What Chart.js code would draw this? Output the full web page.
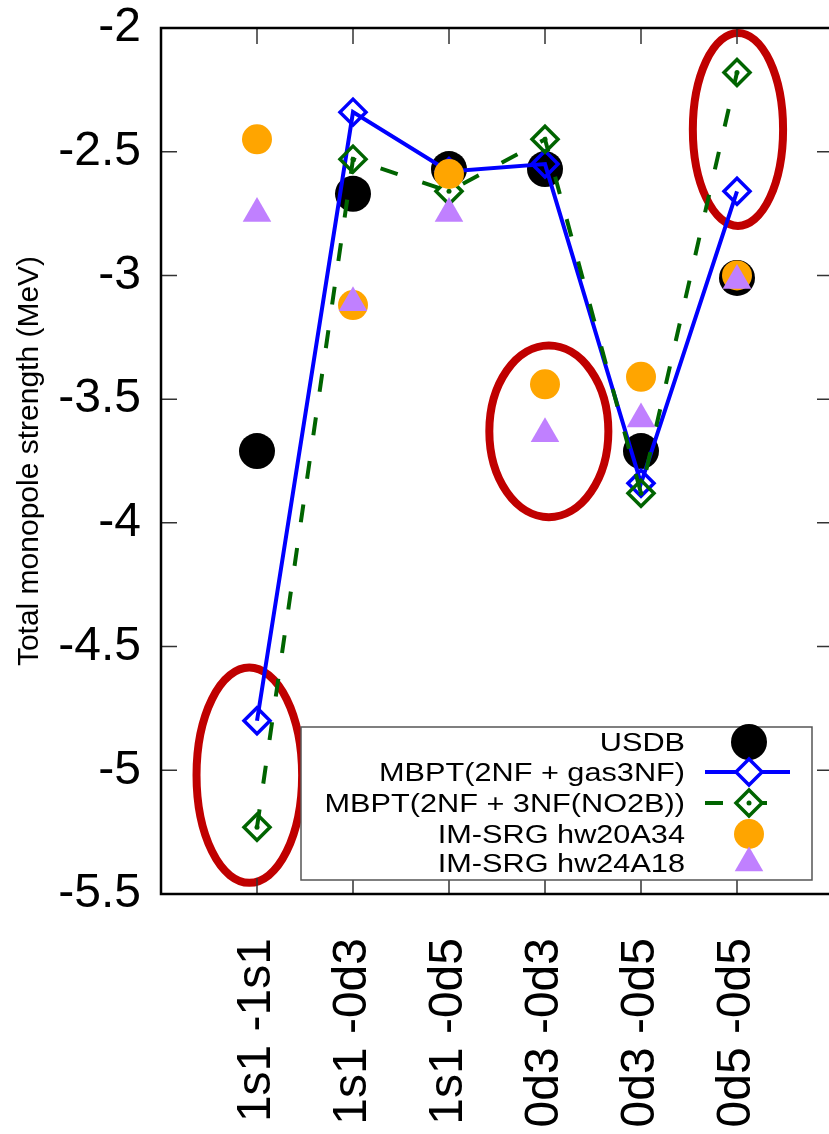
<!DOCTYPE html>
<html>
<head>
<meta charset="utf-8">
<script src="https://cdn.jsdelivr.net/npm/chart.js@4.4.1/dist/chart.umd.min.js"></script>
<style>
  html, body { margin: 0; padding: 0; background: #fff; overflow: hidden; }
  canvas { display: block; }
</style>
</head>
<body>
<canvas id="myChart" width="834" height="1134"></canvas>
<script>
var categories = ["1s1 -1s1", "1s1 -0d3", "1s1 -0d5", "0d3 -0d3", "0d3 -0d5", "0d5 -0d5"];
var usdb     = [-3.71, -2.67, -2.57, -2.57, -3.71, -3.01];
var mbptGas  = [-4.80, -2.34, -2.58, -2.55, -3.84, -2.66];
var mbptNO2B = [-5.23, -2.53, -2.66, -2.45, -3.88, -2.18];
var imsrg20  = [-2.45, -3.12, -2.59, -3.44, -3.41, -3.00];
var imsrg24  = [-2.75, -3.11, -2.75, -3.64, -3.58, -3.02];
var yTicks   = [-5.5, -5, -4.5, -4, -3.5, -3, -2.5, -2];
// red ellipses marking the interesting pairs (centre and half axes, data units)
var highlights = [
  { x: 0.92, y: -5.02, rx: 0.55, ry: 0.435 },
  { x: 4.04, y: -3.63, rx: 0.62, ry: 0.347 },
  { x: 6.01, y: -2.41, rx: 0.47, ry: 0.39 }
];

var FONT = "'Liberation Sans', Arial, Helvetica, sans-serif";

function pts(arr) {
  return arr.map(function (v, i) { return { x: i + 1, y: v }; });
}

var data = {
  datasets: [
    { label: "USDB", data: pts(usdb), showLine: false, pointStyle: "circle",
      pointRadius: 18, backgroundColor: "#000000", borderColor: "#000000", pointBorderWidth: 0, order: 6 },
    { label: "MBPT(2NF + gas3NF)", data: pts(mbptGas), showLine: true, borderColor: "#0000ff", borderWidth: 4,
      pointStyle: "rectRot", pointRadius: 13, pointBorderWidth: 3.5, pointBorderColor: "#0000ff",
      pointBackgroundColor: "rgba(0,0,0,0)", backgroundColor: "#0000ff", order: 5 },
    { label: "MBPT(2NF + 3NF(NO2B))", data: pts(mbptNO2B), showLine: true, borderColor: "#006400", borderWidth: 4,
      borderDash: [18, 26], pointStyle: "rectRot", pointRadius: 13, pointBorderWidth: 3.5, pointBorderColor: "#006400",
      pointBackgroundColor: "rgba(0,0,0,0)", backgroundColor: "#006400", order: 4 },
    { label: null, data: pts(mbptNO2B), showLine: false, pointStyle: "circle", pointRadius: 2.5,
      backgroundColor: "#006400", borderColor: "#006400", pointBorderWidth: 0, order: 3 },
    { label: "IM-SRG hw20A34", data: pts(imsrg20), showLine: false, pointStyle: "circle",
      pointRadius: 15, backgroundColor: "#ffa500", borderColor: "#ffa500", pointBorderWidth: 0, order: 2 },
    { label: "IM-SRG hw24A18", data: pts(imsrg24), showLine: false, pointStyle: "triangle",
      pointRadius: 16.5, backgroundColor: "#c080ff", borderColor: "#c080ff", pointBorderWidth: 0, order: 1 }
  ]
};

var framePlugin = {
  id: "frame",
  beforeDatasetsDraw: function (chart) {
    var ctx = chart.ctx, a = chart.chartArea;
    var xs = chart.scales.x, ys = chart.scales.y;
    ctx.save();
    // ellipses
    ctx.strokeStyle = "#c00000";
    ctx.lineWidth = 8;
    highlights.forEach(function (h) {
      var cx = xs.getPixelForValue(h.x), cy = ys.getPixelForValue(h.y);
      var rx = Math.abs(xs.getPixelForValue(h.x + h.rx) - cx);
      var ry = Math.abs(ys.getPixelForValue(h.y + h.ry) - cy);
      ctx.beginPath();
      ctx.ellipse(cx, cy, rx, ry, 0, 0, Math.PI * 2);
      ctx.stroke();
    });
    // inward ticks
    ctx.strokeStyle = "#333";
    ctx.lineWidth = 1.5;
    ctx.beginPath();
    categories.forEach(function (c, i) {
      var px = xs.getPixelForValue(i + 1);
      ctx.moveTo(px, a.bottom); ctx.lineTo(px, a.bottom - 16);
      ctx.moveTo(px, a.top); ctx.lineTo(px, a.top + 16);
    });
    yTicks.forEach(function (v) {
      var py = ys.getPixelForValue(v);
      ctx.moveTo(a.left, py); ctx.lineTo(a.left + 16, py);
      ctx.moveTo(a.right, py); ctx.lineTo(a.right - 16, py);
    });
    ctx.stroke();
    // border
    ctx.strokeStyle = "#000";
    ctx.lineWidth = 2.5;
    ctx.strokeRect(a.left, a.top, a.right - a.left, a.bottom - a.top);
    ctx.restore();
  },
  afterDraw: function (chart) {
    // gnuplot style key, bottom right
    var ctx = chart.ctx;
    var box = { left: 301, top: 727, right: 812, bottom: 880 };
    var rowY = [742, 772, 803, 834, 863];
    var textRight = 685, sampleX = 749;
    ctx.save();
    ctx.fillStyle = "#fff";
    ctx.fillRect(box.left, box.top, box.right - box.left, box.bottom - box.top);
    ctx.strokeStyle = "#555";
    ctx.lineWidth = 1.5;
    ctx.strokeRect(box.left, box.top, box.right - box.left, box.bottom - box.top);
    var items = chart.data.datasets.filter(function (d) { return d.label; });
    items.forEach(function (d, i) {
      var y = rowY[i];
      ctx.save();
      ctx.translate(textRight, y + 9);
      ctx.scale(1.18, 1);
      ctx.fillStyle = "#000";
      ctx.font = "26px " + FONT;
      ctx.textAlign = "right";
      ctx.textBaseline = "alphabetic";
      ctx.fillText(d.label, 0, 0);
      ctx.restore();
      if (d.showLine) {
        ctx.save();
        ctx.strokeStyle = d.borderColor;
        ctx.lineWidth = d.borderWidth;
        ctx.setLineDash(d.borderDash || []);
        ctx.beginPath();
        ctx.moveTo(705, y);
        ctx.lineTo(d.borderDash ? 772 : 790, y);
        ctx.stroke();
        ctx.restore();
        ctx.fillStyle = "#fff";
        ctx.strokeStyle = d.pointBorderColor;
      } else {
        ctx.fillStyle = d.backgroundColor;
        ctx.strokeStyle = d.backgroundColor;
      }
      ctx.lineWidth = d.pointBorderWidth;
      Chart.helpers.drawPoint(ctx, {
        pointStyle: d.pointStyle, radius: d.pointRadius, rotation: 0, borderWidth: d.pointBorderWidth
      }, sampleX, y);
      if (d.borderDash) {
        ctx.fillStyle = d.borderColor;
        ctx.beginPath();
        ctx.arc(sampleX, y, 2.5, 0, Math.PI * 2);
        ctx.fill();
      }
    });
    ctx.restore();
  }
};

var ctx = document.getElementById("myChart");

var myChart = new Chart(ctx, {
  type: "scatter",
  data: data,
  plugins: [framePlugin],
  options: {
    responsive: false,
    animation: false,
    layout: { autoPadding: false, padding: { top: 28, right: 1, bottom: 0, left: 0 } },
    plugins: { legend: { display: false }, tooltip: { enabled: false } },
    scales: {
      x: {
        type: "linear", min: 0, max: 7,
        afterBuildTicks: function (s) {
          s.ticks = categories.map(function (c, i) { return { value: i + 1 }; });
        },
        afterFit: function (s) { s.height = 240; s.paddingLeft = 0; s.paddingRight = 0; },
        ticks: {
          callback: function (v) { return categories[v - 1]; },
          minRotation: 90, maxRotation: 90, padding: 44,
          color: "#000", font: { family: FONT, size: 48 }
        },
        grid: { display: false, drawTicks: false },
        border: { display: false }
      },
      y: {
        min: -5.5, max: -2,
        afterBuildTicks: function (s) {
          s.ticks = yTicks.map(function (v) { return { value: v }; });
        },
        afterFit: function (s) { s.width = 161; s.paddingTop = 0; s.paddingBottom = 0; },
        ticks: {
          callback: function (v) { return String(v); },
          padding: 20, color: "#000", font: { family: FONT, size: 48 }
        },
        title: {
          display: true, text: "Total monopole strength (MeV)", color: "#000",
          font: { family: FONT, size: 30 }, padding: { top: 12, bottom: 0 }
        },
        grid: { display: false, drawTicks: false },
        border: { display: false }
      }
    }
  }
});
</script>
</body>
</html>
